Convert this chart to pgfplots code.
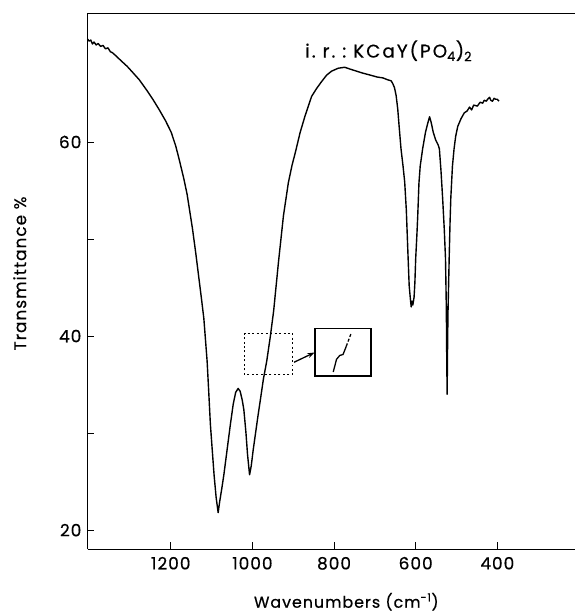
\documentclass[border=0pt]{standalone}
\usepackage{fontspec}
\setmainfont{Poppins}[LetterSpace=6, FakeBold=0.5]
\newfontfamily\titlefont{Poppins}[LetterSpace=11, FakeBold=0.5]
\usepackage{pgfplots}
\pgfplotsset{compat=1.18}
\usetikzlibrary{arrows.meta}
\begin{document}
\begin{tikzpicture}
\path (0pt,0pt) rectangle (578pt,-614pt);
\begin{axis}[at={(88pt,-552pt)}, anchor=south west, scale only axis,
  width=490pt, height=539pt,
  x filter/.expression={-x},
  xmin=-1404, xmax=-210, ymin=18.05, ymax=73.3,
  clip=false,
  axis y line*=left, axis x line*=box,
  axis line style={line width=0.8pt},
  xtick={-1200,-1000,-800,-600,-400}, xticklabels={1200,1000,800,600,400},
  ytick={20,40,60}, minor ytick={30,50},
  tick align=inside, xtick pos=bottom,
  major tick length=7pt, minor tick length=7pt,
  tick style={black, line width=0.8pt},
  tick label style={font=\fontsize{17}{17}\selectfont},
  xticklabel style={anchor=base, inner sep=0pt, yshift=-20.5pt},
  yticklabel style={anchor=east, inner sep=0pt, xshift=-6pt},
  /pgf/number format/assume math mode=true,
  xlabel={Wavenumbers (cm\textsuperscript{-1})},
  xlabel style={font=\fontsize{16}{16}\selectfont, at={(axis description cs:0.531,-0.1095)}, anchor=base},
  ylabel={Transmittance \%},
  ylabel style={font=\fontsize{17}{17}\selectfont, at={(axis description cs:-0.139,0.514)}, anchor=center},
]
\addplot[black, line width=1.4pt, line join=round] coordinates {
(1404,70.6) (1400,70.4) (1396,70.5) (1392,70.1) (1388,70.3) (1383,70.0) (1378,70.15) (1372,69.85) (1366,69.95) (1360,69.6) (1354,69.7) (1348,69.3) (1343,69.2) (1335,68.9) (1320,68.3) (1307,67.8) (1294,67.2) (1277,66.4) (1260,65.4) (1244,64.4) (1228,63.3) (1213,62.2) (1199,61.0) (1188,59.6) (1180,58.3) (1168,56.2) (1160,54.6) (1147,51.1) (1139,48.6) (1131,45.9) (1125,43.9) (1119,41.8) (1111,37.4) (1107,34.2) (1103,30.9) (1098,28.0) (1094,25.7) (1089,23.4) (1084,21.8) (1080,23.0) (1075,24.3) (1070,25.7) (1062,28.3) (1054,30.9) (1047,33.0) (1041,34.2) (1035,34.6) (1030,34.3) (1025,33.4) (1021,32.4) (1016,30.1) (1012,27.8) (1007,25.7) (1003,26.6) (998,28.3) (993,29.8) (987,31.6) (981,33.3) (973,35.6) (965,37.4) (956,40.0) (948,42.6) (936,47.7) (924,52.4) (912,55.8) (903,57.6) (895,58.9) (883,61.0) (871,62.7) (855,64.7) (843,65.5) (831,66.2) (818,66.9) (806,67.3) (790,67.6) (774,67.7) (760,67.5) (745,67.3) (730,67.1) (712,66.9) (695,66.7) (680,66.6) (668,66.4) (660,66.3) (656,66.0) (652,65.6) (648,64.8) (644,63.4) (640,61.3) (636,59.3) (631,57.5) (627,55.9) (623,53.0) (619,48.5) (616,45.2) (613,43.8) (611,43.0) (609,43.6) (607,43.2) (604,44.0) (602,45.5) (600,48.0) (597,50.5) (595,52.4) (592,55.8) (589,57.5) (586,58.4) (583,59.3) (576,61.0) (570,62.0) (566,62.6) (562,62.0) (557,61.0) (551,60.2) (545,59.7) (542,59.3) (538,57.0) (534,54.2) (530,51.0) (527,48.0) (525,43.0) (524,38.0) (523,34.0) (522,38.5) (521,42.2) (519,46.0) (518,48.0) (516,51.5) (514,54.2) (510,57.5) (506,59.3) (502,60.6) (497,61.6) (489,62.4) (481,63.0) (474,63.2) (468,63.6) (463,63.3) (458,63.8) (449,63.7) (442,64.1) (436,64.0) (432,64.3) (427,64.2) (424,64.4) (419,64.6) (416,64.3) (412,64.2) (408,64.5) (404,64.4) (400,64.4) (396,64.2)
};
% inset magnified detail
\addplot[black, line width=1.3pt] coordinates {(802,36.3) (794,37.6) (786,38.0) (778,38.1) (770,38.95)};
\addplot[black, line width=1.3pt, dash pattern=on 3pt off 2pt] coordinates {(770,38.95) (758,40.3)};
\draw[black, line width=1pt, dash pattern=on 2pt off 2.5pt] (axis cs:-1019,36.0) rectangle (axis cs:-902,40.3);
\draw[black, line width=1.5pt] (axis cs:-847,35.9) rectangle (axis cs:-709,40.8);
\draw[black, line width=1.3pt, -{Stealth[length=7pt,width=5pt]}] (axis cs:-898,37.3) -- (axis cs:-848,38.3);
\node[anchor=base west, inner sep=0pt, font=\titlefont\fontsize{18.5}{18.5}\selectfont] at (axis cs:-871,68.7) {i.\ r.\ :\ KCaY(PO\textsubscript{4})\textsubscript{2}};
\end{axis}
\end{tikzpicture}
\end{document}
